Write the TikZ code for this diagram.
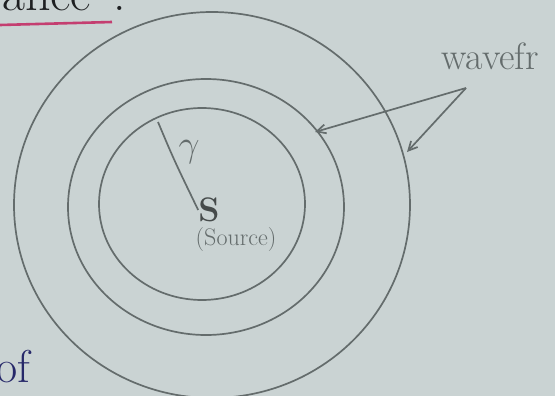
\documentclass[tikz,border=0pt]{standalone}
\usepackage{fontspec}
\usetikzlibrary{arrows.meta}
\definecolor{paper}{RGB}{202,211,211}
\definecolor{pencil}{RGB}{100,108,108}
\definecolor{ink}{RGB}{30,32,34}
\definecolor{pinkink}{RGB}{196,62,112}
\definecolor{blueink}{RGB}{38,40,105}

\begin{document}
\begin{tikzpicture}[x=1pt, y=-1pt, >={Straight Barb[length=9pt,width=9pt]},
    pencil/.style={draw=pencil, line width=1.7pt},
    hand/.style={text=pencil, inner sep=0pt}]
    \useasboundingbox (0,0) rectangle (555,396);
    \clip (0,0) rectangle (555,396);
    \fill[paper] (0,0) rectangle (555,396);

    % heading left over from the page above
    \node[anchor=base west, text=ink, inner sep=0pt] (head) at (2,11)
        {\fontsize{50}{50}\selectfont ance\hspace{22pt}.};
    \draw[pinkink, line width=2.6pt] (0,25) -- (112,22);

    % wavefronts
    \draw[pencil] (212,205) ellipse (198 and 193);
    \draw[pencil] (206,207) ellipse (138 and 128);
    \draw[pencil] (202,204) ellipse (103 and 96);

    % source and radius
    \node[hand, text=pencil!70!black] (S) at (209,210) {\fontsize{34}{34}\selectfont\bfseries S};
    \node[hand] (src) at (236,240) {\fontsize{24}{24}\selectfont (Source)};
    \coordinate (rim) at (158,122);
    \draw[pencil] (rim) .. controls (174,160) .. (S.west);
    \node[hand] (r) at (189,152) {\scalebox{1.5}{\fontsize{24}{24}\selectfont$\gamma$}};

    % label and arrows
    \node[hand, anchor=base west] (wf) at (441,70) {\fontsize{38}{38}\selectfont wavefr};
    \coordinate (fork) at (466,88);
    \coordinate (mid) at (315,132);
    \coordinate (out) at (407,152);
    \draw[pencil, ->] (fork) -- (mid);
    \draw[pencil, ->] (fork) -- (out);

    % word from the next line
    \node[anchor=base west, text=blueink, inner sep=0pt] (of) at (-4,382)
        {\fontsize{46}{46}\selectfont of};
\end{tikzpicture}
\end{document}
